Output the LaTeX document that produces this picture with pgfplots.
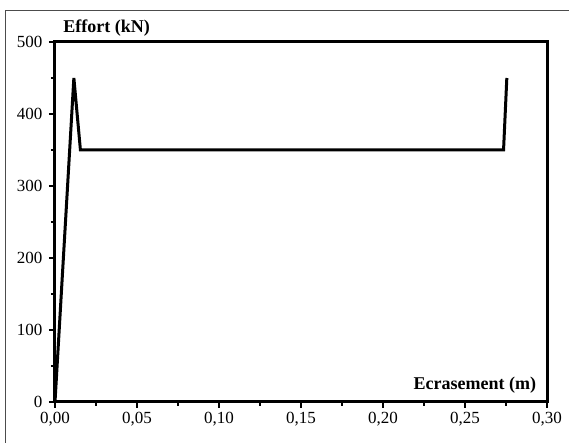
\documentclass[border=0pt]{standalone}
\usepackage{pgfplots}
\pgfplotsset{compat=1.18}
\usepackage{fontspec}
\setmainfont{Liberation Serif}
\newcommand{\tlfont}{\fontsize{17}{19}\selectfont}
\begin{document}
\begin{tikzpicture}
\useasboundingbox (-55pt,-41pt) rectangle (514pt,402pt);
\begin{axis}[
  at={(0pt,0pt)}, anchor=south west,
  scale only axis, width=492pt, height=360pt,
  xmin=0, xmax=0.30, ymin=0, ymax=500,
  axis line style={line width=3pt},
  xtick={0,0.05,0.10,0.15,0.20,0.25,0.30},
  ytick={0,100,200,300,400,500},
  minor x tick num=1, minor y tick num=1,
  tick align=outside, tick pos=left,
  major tick length=6pt, minor tick length=4pt,
  every tick/.style={black, line width=2pt},
  xticklabel style={yshift=-1pt},
  yticklabel style={xshift=-3pt},
  xticklabel={\tlfont\pgfmathprintnumber[fixed,fixed zerofill,precision=2,use comma,assume math mode=true]{\tick}},
  yticklabel={\tlfont\pgfmathprintnumber[assume math mode=true]{\tick}},
  scaled x ticks=false,
  clip=false,
]
\addplot[black, line width=3pt, line join=miter] coordinates {
  (0,0) (0.0115,450) (0.0155,350) (0.2735,350) (0.2755,450)
};
\node[anchor=south west, font=\bfseries\fontsize{18}{20}\selectfont] at (rel axis cs:0.01,1) [yshift=2pt] {Effort (kN)};
\node[anchor=south east, font=\bfseries\fontsize{18}{20}\selectfont] at (rel axis cs:0.985,0) [yshift=5pt] {Ecrasement (m)};
\end{axis}
\draw[line width=0.8pt, black!70] (-50pt,-42pt) -- (-50pt,392pt) -- (515pt,392pt);
\end{tikzpicture}
\end{document}
